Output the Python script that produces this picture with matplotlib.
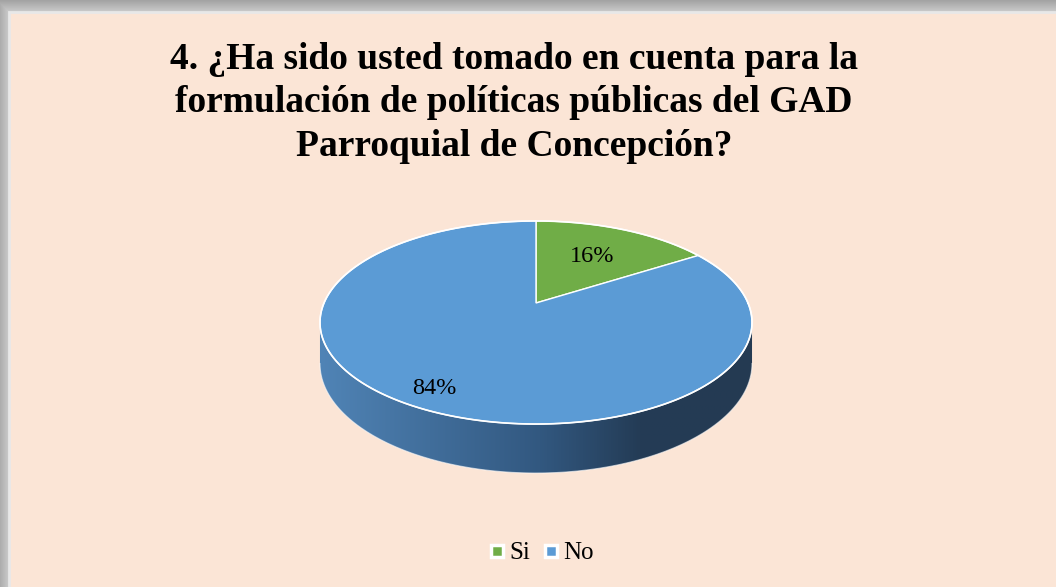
import numpy as np
import matplotlib.pyplot as plt
from matplotlib.patches import Polygon, Rectangle
from matplotlib.lines import Line2D

labels = ['Si', 'No']
shares = [16, 84]
colors = ['#70AD47', '#5B9BD5']
title = ('4. ¿Ha sido usted tomado en cuenta para la\n'
         'formulación de políticas públicas del GAD\n'
         'Parroquial de Concepción?')

W, H = 1056, 587
fig = plt.figure(figsize=(W / 100, H / 100), dpi=100)
ax = fig.add_axes([0, 0, 1, 1])
ax.set_xlim(0, W)
ax.set_ylim(H, 0)
ax.axis('off')

# grey shadow frame on top / left
yy, xx = np.mgrid[0:H, 0:W]
shade = 205 - 3.5 * np.maximum(np.maximum(12 - yy, 9 - xx), 0)
ax.imshow(np.dstack([shade] * 3).astype(np.uint8), extent=(0, W, H, 0), zorder=0)
ax.add_patch(Rectangle((9, 12), W, H, facecolor='#FBE5D6', edgecolor='#E8E8E8', lw=2, zorder=1))

# 3d pie geometry (simple perspective)
cx, cy = 536, 303
A, B, D, p = 212, 97.8, 39.6, 0.192


def proj(t, r=1.0, level=0.0):
    X = r * np.cos(t)
    Z = r * np.sin(t)
    w = 1 + p * Z
    return cx + A * X / w, cy - (B * Z + D * level) / w


# side wall with gradient
t_side = np.radians(np.linspace(180 + 11, 360 - 11, 200))
tx, ty = proj(t_side)
bx, by = proj(t_side[::-1], level=-1)
side = np.column_stack([np.r_[tx, bx], np.r_[ty, by]])
gx = np.linspace(300, 780, 400)
stops_x = [320, 540, 640, 760]
stops_c = np.array([[80, 132, 182], [50, 88, 128], [36, 60, 86], [36, 58, 82]]) / 255
grad = np.stack([np.interp(gx, stops_x, stops_c[:, k]) for k in range(3)], axis=-1)
im = ax.imshow(grad[None, :, :], extent=(300, 780, 500, 280), aspect='auto', zorder=2)
side_patch = Polygon(side, closed=True, facecolor='none', edgecolor='none')
ax.add_patch(side_patch)
im.set_clip_path(side_patch)
ax.plot(bx, by, color='white', lw=0.8, alpha=0.6, zorder=3)

# top face
cum = np.r_[0, np.cumsum(shares)] / sum(shares) * 360
for i, (lab, col) in enumerate(zip(labels, colors)):
    t = np.radians(np.linspace(90 - cum[i], 90 - cum[i + 1], 200))
    x, y = proj(t)
    pts = np.column_stack([np.r_[cx, x], np.r_[cy, y]])
    ax.add_patch(Polygon(pts, closed=True, facecolor=col, edgecolor='white', lw=1, zorder=4))

t_all = np.radians(np.linspace(0, 360, 400))
ex, ey = proj(t_all)
ax.plot(ex, ey, color='white', lw=1.2, zorder=5)

# data labels
label_r = [0.6, 0.85]
for i, s in enumerate(shares):
    mid = np.radians(90 - (cum[i] + cum[i + 1]) / 2)
    lx, ly = proj(mid, r=label_r[i])
    ax.text(lx, ly, f'{s}%', ha='center', va='center', fontsize=17.5,
            family='Liberation Serif', color='black', zorder=6)

ax.text(514, 103, title, ha='center', va='center', fontsize=27, fontweight='bold',
        family='Liberation Serif', linespacing=1.3, zorder=6)

handles = [Line2D([], [], marker='s', linestyle='', markersize=9, markerfacecolor=c,
                  markeredgecolor='white', markeredgewidth=2.5) for c in colors]
leg = ax.legend(handles, labels, loc='center', bbox_to_anchor=(541 / W, 1 - 553 / H),
                ncol=2, frameon=False, handlelength=0.7, handletextpad=0.15,
                columnspacing=0.5, prop={'family': 'Liberation Serif', 'size': 18})

fig.savefig('out.png', dpi=100)
